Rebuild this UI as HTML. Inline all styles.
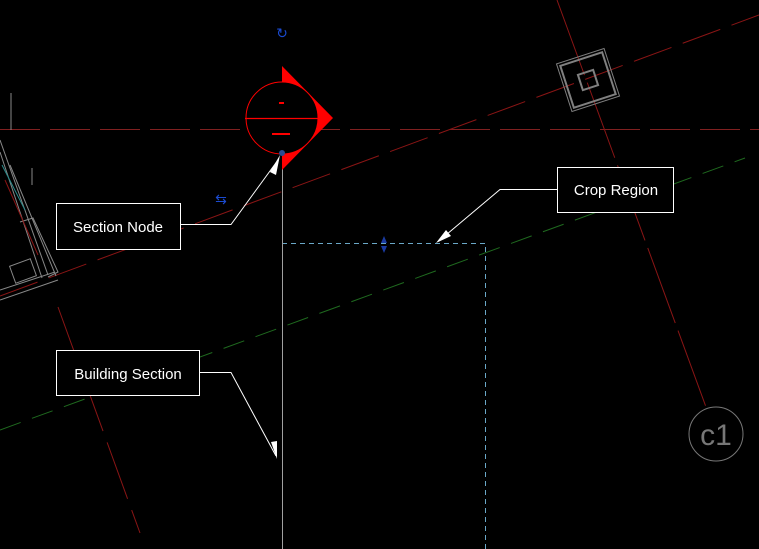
<!DOCTYPE html>
<html><head><meta charset="utf-8"><style>
html,body{margin:0;padding:0;background:#000;width:759px;height:549px;overflow:hidden}
svg{display:block}
text{font-family:"Liberation Sans",sans-serif}
</style></head><body>
<svg width="759" height="549" viewBox="0 0 759 549" xmlns="http://www.w3.org/2000/svg">
<rect width="759" height="549" fill="#000"/>
<!-- grid lines -->
<line x1="0" y1="129.5" x2="759" y2="129.5" stroke="#802020" stroke-width="1" stroke-dasharray="40,10"/>
<line x1="0" y1="296" x2="759" y2="15" stroke="#8a1515" stroke-width="1" stroke-dasharray="40,12"/>
<line x1="0" y1="430" x2="745" y2="158" stroke="#1f6a1f" stroke-width="1" stroke-dasharray="22,12"/>
<line x1="557" y1="0" x2="706" y2="407" stroke="#8a1515" stroke-width="1" stroke-dasharray="80,8"/>
<line x1="58" y1="307" x2="140" y2="533" stroke="#8a1515" stroke-width="1" stroke-dasharray="60,12"/>
<!-- left wall -->
<g stroke="#888" stroke-width="1" fill="none">
<line x1="0" y1="140" x2="48" y2="275"/>
<line x1="0" y1="152" x2="42" y2="278"/>
<line x1="10" y1="165" x2="56" y2="276"/>
<polyline points="20,222 33,218 58,272 48,277"/>
<rect x="12" y="262" width="22" height="18" transform="rotate(-20 23 271)"/>
<line x1="0" y1="290" x2="55" y2="272"/>
<line x1="0" y1="300" x2="58" y2="280"/>
<line x1="11" y1="93" x2="11" y2="130"/>
<line x1="32" y1="168" x2="32" y2="185"/>
</g>
<line x1="2" y1="165" x2="25" y2="210" stroke="#2a8a8a" stroke-width="1"/>
<line x1="5" y1="180" x2="38" y2="255" stroke="#8a1515" stroke-width="1"/>
<!-- column square -->
<g transform="translate(588,80) rotate(-18)" fill="none" stroke="#808080">
<rect x="-25" y="-25" width="50" height="50" stroke-width="1"/>
<rect x="-22" y="-22" width="44" height="44" stroke-width="2"/>
<rect x="-8" y="-8" width="16" height="16" stroke-width="2"/>
</g>
<!-- c1 -->
<circle cx="716" cy="434" r="27" fill="none" stroke="#777" stroke-width="1"/>
<text x="716" y="445" font-size="30" fill="#777" text-anchor="middle">c1</text>
<!-- crop region -->
<polyline points="282,243.5 485.5,243.5 485.5,549" fill="none" stroke="#6aa8c8" stroke-width="1" stroke-dasharray="5,4"/>
<!-- section line -->
<line x1="282.5" y1="150" x2="282.5" y2="549" stroke="#a0a0a0" stroke-width="1"/>
<!-- section head -->
<polygon points="282,66 333,118 282,170" fill="#ff0000"/>
<circle cx="282" cy="118" r="36" fill="#000" stroke="#ff0000" stroke-width="1"/>
<line x1="245" y1="118.5" x2="318" y2="118.5" stroke="#ff0000" stroke-width="1.2"/>
<rect x="279" y="102" width="5" height="2" fill="#ff0000"/>
<rect x="272" y="133" width="18" height="2" fill="#ff0000"/>
<circle cx="282" cy="153" r="3" fill="#2a4a90"/>
<!-- blue controls -->
<text x="282" y="38" font-size="14" fill="#1a4ad0" text-anchor="middle">↻</text>
<text x="221" y="204" font-size="14" fill="#1a4ad0" text-anchor="middle">⇆</text>
<polygon points="384,236 381,243 387,243" fill="#1a3aa0"/>
<polygon points="384,253 381,246 387,246" fill="#1a3aa0"/>
<!-- callouts -->
<g stroke="#fff" stroke-width="1" fill="none">
<polyline points="180,224.5 231,224.5 278,160"/>
<polyline points="557,189.5 500,189.5 440,240"/>
<polyline points="200,372.5 231,372.5 276,456"/>
</g>
<polygon points="280,155 270,172 276,175" fill="#fff"/>
<polygon points="436,243 446,230 451,236" fill="#fff"/>
<polygon points="277,459 271,442 277,441" fill="#fff"/>
<rect x="56.5" y="203.5" width="124" height="46" fill="#000" stroke="#fff"/>
<text x="118" y="232" font-size="15" fill="#fff" text-anchor="middle">Section Node</text>
<rect x="557.5" y="167.5" width="116" height="45" fill="#000" stroke="#fff"/>
<text x="616" y="195" font-size="15" fill="#fff" text-anchor="middle">Crop Region</text>
<rect x="56.5" y="350.5" width="143" height="45" fill="#000" stroke="#fff"/>
<text x="128" y="379" font-size="15" fill="#fff" text-anchor="middle">Building Section</text>
</svg>
</body></html>
